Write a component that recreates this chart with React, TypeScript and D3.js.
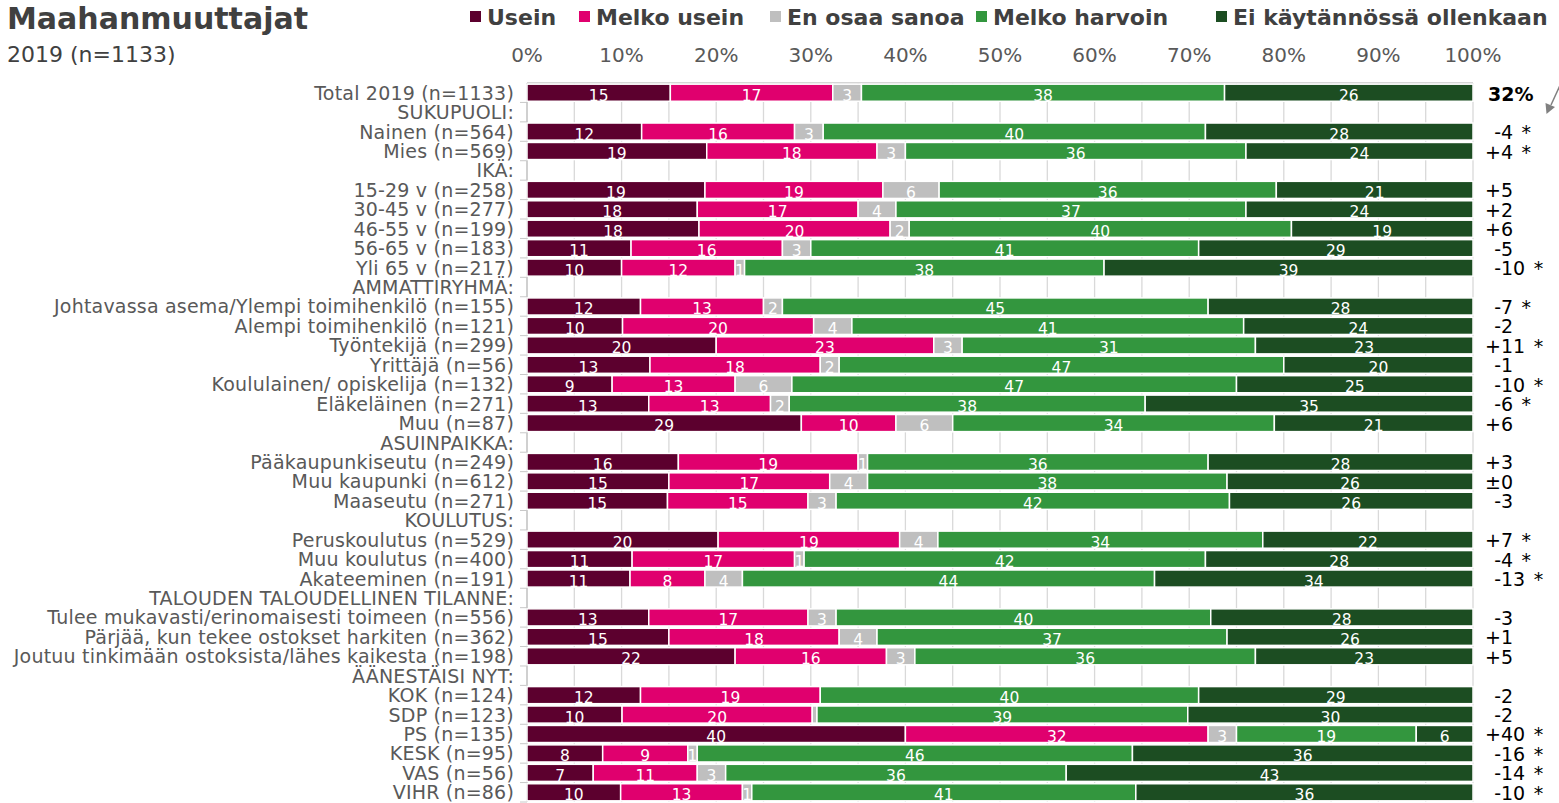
import React from "react";
import * as d3 from "d3";

const categories = [
  "Total 2019 (n=1133)", "SUKUPUOLI:", "Nainen (n=564)", "Mies (n=569)", "IKÄ:",
  "15-29 v (n=258)", "30-45 v (n=277)", "46-55 v (n=199)", "56-65 v (n=183)", "Yli 65 v (n=217)",
  "AMMATTIRYHMÄ:", "Johtavassa asema/Ylempi toimihenkilö (n=155)", "Alempi toimihenkilö (n=121)",
  "Työntekijä (n=299)", "Yrittäjä (n=56)", "Koululainen/ opiskelija (n=132)", "Eläkeläinen (n=271)",
  "Muu (n=87)", "ASUINPAIKKA:", "Pääkaupunkiseutu (n=249)", "Muu kaupunki (n=612)", "Maaseutu (n=271)",
  "KOULUTUS:", "Peruskoulutus (n=529)", "Muu koulutus (n=400)", "Akateeminen (n=191)",
  "TALOUDEN TALOUDELLINEN TILANNE:", "Tulee mukavasti/erinomaisesti toimeen (n=556)",
  "Pärjää, kun tekee ostokset harkiten (n=362)", "Joutuu tinkimään ostoksista/lähes kaikesta (n=198)",
  "ÄÄNESTÄISI NYT:", "KOK (n=124)", "SDP (n=123)", "PS (n=135)", "KESK (n=95)", "VAS (n=56)", "VIHR (n=86)",
];

const seriesNames = ["Usein", "Melko usein", "En osaa sanoa", "Melko harvoin", "Ei käytännössä ollenkaan"];
const seriesColors = ["#5c002e", "#e0006e", "#bfbfbf", "#33963e", "#1c4d22"];

const usein = [15, null, 12, 19, null, 19, 18, 18, 11, 10, null, 12, 10, 20, 13, 9, 13, 29, null, 16, 15, 15, null, 20, 11, 11, null, 13, 15, 22, null, 12, 10, 40, 8, 7, 10];
const melkoUsein = [17, null, 16, 18, null, 19, 17, 20, 16, 12, null, 13, 20, 23, 18, 13, 13, 10, null, 19, 17, 15, null, 19, 17, 8, null, 17, 18, 16, null, 19, 20, 32, 9, 11, 13];
const enOsaaSanoa = [3, null, 3, 3, null, 6, 4, 2, 3, 1, null, 2, 4, 3, 2, 6, 2, 6, null, 1, 4, 3, null, 4, 1, 4, null, 3, 4, 3, null, 0, 0.5, 3, 1, 3, 1];
const melkoHarvoin = [38, null, 40, 36, null, 36, 37, 40, 41, 38, null, 45, 41, 31, 47, 47, 38, 34, null, 36, 38, 42, null, 34, 42, 44, null, 40, 37, 36, null, 40, 39, 19, 46, 36, 41];
const eiKaytannossa = [26, null, 28, 24, null, 21, 24, 19, 29, 39, null, 28, 24, 23, 20, 25, 35, 21, null, 28, 26, 26, null, 22, 28, 34, null, 28, 26, 23, null, 29, 30, 6, 36, 43, 36];

const totalShare = "32%";
const deltas = ["", "", "-4 *", "+4 *", "", "+5", "+2", "+6", "-5", "-10 *", "", "-7 *", "-2", "+11 *", "-1", "-10 *", "-6 *", "+6", "", "+3", "±0", "-3", "", "+7 *", "-4 *", "-13 *", "", "-3", "+1", "+5", "", "-2", "-2", "+40 *", "-16 *", "-14 *", "-10 *"];

const tickValues = [0, 10, 20, 30, 40, 50, 60, 70, 80, 90, 100];

const W = 1559, H = 803;
const LEFT = 527, RIGHT = 1473, TOP = 83, BOTTOM = 802;
const FONT = "'DejaVu Sans', Verdana, sans-serif";
const TXT = "#595959";

export default function App() {
  const allSeries = [usein, melkoUsein, enOsaaSanoa, melkoHarvoin, eiKaytannossa];
  const rows = categories.map((c, i) => {
    const o: any = { idx: i, header: usein[i] === null };
    seriesNames.forEach((k, j) => (o[k] = allSeries[j][i] ?? 0));
    return o;
  });
  const dataRows = rows.filter((r) => !r.header);
  const stacked = d3.stack().keys(seriesNames).offset(d3.stackOffsetExpand)(dataRows as any);

  const x = d3.scaleLinear().domain([0, 1]).range([LEFT, RIGHT]);
  const xp = d3.scaleLinear().domain([0, 100]).range([LEFT, RIGHT]);
  const y = d3.scaleBand<number>().domain(categories.map((_, i) => i)).range([TOP, BOTTOM]).paddingInner(0.12).paddingOuter(0.06);
  const bw = y.bandwidth();
  const step = y.step();
  const grid = d3.range(0, 101, 5);

  const legendX = [470, 579, 770, 976, 1216];

  return (
    <div style={{ position: "absolute", left: 0, top: 0 }}>
      <svg width={W} height={H} style={{ display: "block", background: "#fff" }}>
        <text x={7} y={29} fontFamily={FONT} fontWeight="bold" fontSize={30} fill="#404040">Maahanmuuttajat</text>
        <text x={7} y={62} fontFamily={FONT} fontSize={22} fill="#404040">2019 (n=1133)</text>

        {seriesNames.map((s, i) => (
          <g key={s}>
            <rect x={legendX[i]} y={11} width={11} height={11} fill={seriesColors[i]} />
            <text x={legendX[i] + 17} y={25} fontFamily={FONT} fontWeight="bold" fontSize={22} fill="#404040">{s}</text>
          </g>
        ))}

        {tickValues.map((t) => (
          <text key={t} x={xp(t)} y={62} textAnchor="middle" fontFamily={FONT} fontSize={20} fill={TXT}>{t}%</text>
        ))}

        {grid.map((g) => (
          <line key={g} x1={xp(g)} x2={xp(g)} y1={TOP} y2={BOTTOM} stroke="#d9d9d9" strokeWidth={1.3} />
        ))}
        <line x1={LEFT} x2={RIGHT} y1={TOP} y2={TOP} stroke="#c8c8c8" strokeWidth={1.5} />
        <line x1={LEFT} x2={LEFT} y1={TOP} y2={BOTTOM} stroke="#c8c8c8" strokeWidth={1.5} />
        {categories.map((_, i) => (
          <line key={i} x1={LEFT - 7} x2={LEFT} y1={(y(i) as number) + bw + (step - bw) / 2} y2={(y(i) as number) + bw + (step - bw) / 2} stroke="#c8c8c8" strokeWidth={1} />
        ))}

        {stacked.map((layer, si) => (
          <g key={si}>
            {layer.map((d: any, j) => {
              const r = dataRows[j];
              const x0 = x(d[0]);
              const x1 = x(d[1]);
              const w = x1 - x0;
              if (w <= 0) return null;
              const yy = y(r.idx) as number;
              const v = r[seriesNames[si]];
              return (
                <g key={j}>
                  <rect x={x0} y={yy} width={w} height={bw} fill={seriesColors[si]} stroke="#fff" strokeWidth={1.5} />
                  {w >= 7 && (
                    <text x={(x0 + x1) / 2} y={yy + bw / 2 + 8} textAnchor="middle" fontFamily={FONT} fontSize={15.5} fill="#fff">{Math.round(v)}</text>
                  )}
                </g>
              );
            })}
          </g>
        ))}

        {categories.map((c, i) => (
          <text key={i} x={514} y={(y(i) as number) + bw / 2 + 7} textAnchor="end" fontFamily={FONT} fontSize={19} letterSpacing={0.2} fill={TXT}>{c}</text>
        ))}

        <text x={1488} y={(y(0) as number) + bw / 2 + 8} fontFamily={FONT} fontWeight="bold" fontSize={19} fill="#000">{totalShare}</text>
        {deltas.map((d, i) => {
          if (!d) return null;
          const sign = d[0];
          const rest = d.slice(1);
          const [num, star] = rest.split(" ");
          const cy = (y(i) as number) + bw / 2 + 7.5;
          return (
            <g key={i}>
              <text x={1501} y={cy} textAnchor="end" fontFamily={FONT} fontSize={19} fill="#000">{sign}</text>
              <text x={1501} y={cy} fontFamily={FONT} fontSize={19} fill="#000">{num}</text>
              {star && <text x={1501 + num.length * 12.1 + 8.5} y={cy} fontFamily={FONT} fontSize={19} fill="#000">*</text>}
            </g>
          );
        })}

        <line x1={1562} x2={1551} y1={81} y2={105} stroke="#808080" strokeWidth={1.5} />
        <polygon points="1546.5,114 1545.5,103 1555,107" fill="#808080" />
      </svg>
    </div>
  );
}
